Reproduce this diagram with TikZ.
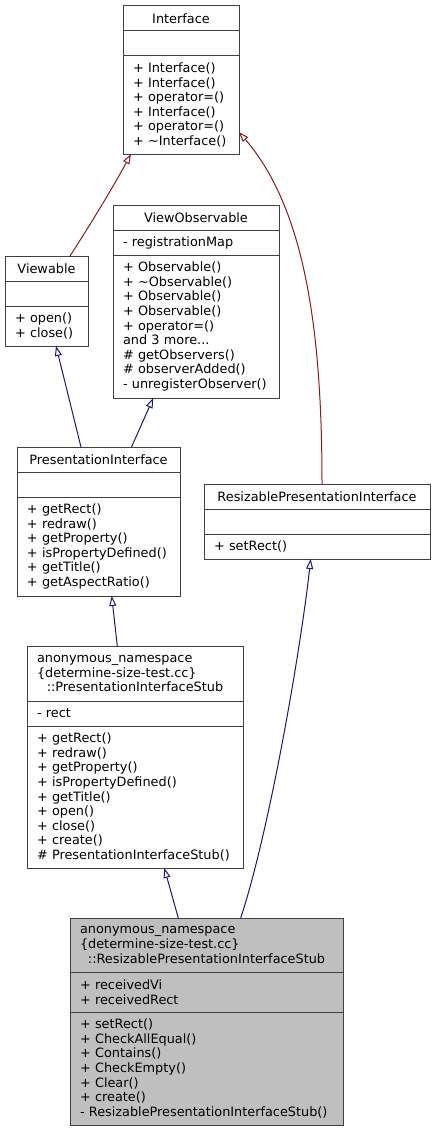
\documentclass[tikz,border=0pt]{standalone}
\usepackage{fontspec}
\setmainfont{DejaVu Sans}
\usetikzlibrary{arrows.meta,positioning}
\definecolor{boxgray}{HTML}{404040}
\definecolor{inhred}{HTML}{8B1A1A}
\definecolor{inhblue}{HTML}{191970}
\definecolor{curfill}{HTML}{BFBFBF}

\begin{document}
\begin{tikzpicture}[x=1pt, y=-1pt, node distance=0pt,
                    every node/.style={font=\fontsize{12.85}{14.6}\selectfont},
                    classpart/.style={draw=boxgray, fill=white, line width=1pt, inner xsep=10pt,
                                      inner ysep=0pt, outer sep=0pt, anchor=north west, minimum height=25pt},
                    classtitle/.style={classpart, align=center},
                    classmembers/.style={classpart, align=left},
                    current/.style={fill=curfill},
                    red edge/.style={draw=inhred, line width=1pt, -{Triangle[open,length=10pt,width=7pt]}},
                    blue edge/.style={draw=inhblue, line width=1pt, -{Triangle[open,length=10pt,width=7pt]}}]

  \useasboundingbox (0,0) rectangle (435,1132);

  \node[classtitle, text width=96pt] (iface) at (123,6) {Interface};
  \node[classmembers, text width=96pt, below=of iface] (iface-a) {};
  \node[classmembers, text width=96pt, minimum height=98pt, below=of iface-a] (iface-m)
    {+ Interface()\\+ Interface()\\+ operator=()\\+ Interface()\\+ operator=()\\+ \textasciitilde Interface()};

  \node[classtitle, text width=146pt] (vobs) at (113,205) {ViewObservable};
  \node[classmembers, text width=146pt, below=of vobs] (vobs-a) {- registrationMap};
  \node[classmembers, text width=146pt, minimum height=143pt, below=of vobs-a] (vobs-m)
    {+ Observable()\\+ \textasciitilde Observable()\\+ Observable()\\+ Observable()\\+ operator=()\\and 3 more...\\\# getObservers()\\\# observerAdded()\\- unregisterObserver()};

  \node[classtitle, text width=63pt] (vwbl) at (5,256) {Viewable};
  \node[classmembers, text width=63pt, below=of vwbl] (vwbl-a) {};
  \node[classmembers, text width=63pt, minimum height=40pt, below=of vwbl-a] (vwbl-m)
    {+ open()\\+ close()};

  \node[classtitle, text width=143pt] (pif) at (17,447) {PresentationInterface};
  \node[classmembers, text width=143pt, below=of pif] (pif-a) {};
  \node[classmembers, text width=143pt, minimum height=99pt, below=of pif-a] (pif-m)
    {+ getRect()\\+ redraw()\\+ getProperty()\\+ isPropertyDefined()\\+ getTitle()\\+ getAspectRatio()};

  \node[classtitle, text width=206pt] (rpif) at (204,484) {ResizablePresentationInterface};
  \node[classmembers, text width=206pt, below=of rpif] (rpif-a) {};
  \node[classmembers, text width=206pt, below=of rpif-a] (rpif-m) {+ setRect()};

  \node[classmembers, text width=196pt, minimum height=55pt] (pistub) at (27,646)
    {anonymous\_namespace\\\{determine-size-test.cc\}\\\makebox[\hsize]{::PresentationInterfaceStub}};
  \node[classmembers, text width=196pt, below=of pistub] (pistub-a) {- rect};
  \node[classmembers, text width=196pt, minimum height=142pt, below=of pistub-a] (pistub-m)
    {+ getRect()\\+ redraw()\\+ getProperty()\\+ isPropertyDefined()\\+ getTitle()\\+ open()\\+ close()\\+ create()\\\# PresentationInterfaceStub()};

  \node[classmembers, current, text width=253pt, minimum height=54pt] (rpistub) at (70,918)
    {anonymous\_namespace\\\{determine-size-test.cc\}\\\makebox[\hsize]{::ResizablePresentationInterfaceStub}};
  \node[classmembers, current, text width=253pt, minimum height=40pt, below=of rpistub] (rpistub-a)
    {+ receivedVi\\+ receivedRect};
  \node[classmembers, current, text width=253pt, minimum height=113pt, below=of rpistub-a] (rpistub-m)
    {+ setRect()\\+ CheckAllEqual()\\+ Contains()\\+ CheckEmpty()\\+ Clear()\\+ create()\\- ResizablePresentationInterfaceStub()};

  \draw[red edge] ([xshift=23.5pt]vwbl.north) .. controls +(20,-31) and +(-19,35) .. ([xshift=-50pt]iface-m.south);
  \draw[red edge] ([xshift=5pt]rpif.north) .. controls +(0,-154) and +(66,77) .. ([yshift=-27pt]iface-m.east);
  \draw[blue edge] ([xshift=-17.5pt]pif.north) -- ([xshift=9.5pt]vwbl-m.south);
  \draw[blue edge] ([xshift=33pt]pif.north) -- ([xshift=-42.7pt]vobs-m.south);
  \draw[blue edge] ([xshift=-17.7pt]pistub.north) -- ([xshift=13.2pt]pif-m.south);
  \draw[blue edge] ([xshift=-28.2pt]rpistub.north) -- ([xshift=29.3pt]pistub-m.south);
  \draw[blue edge] ([xshift=34.2pt]rpistub.north) .. controls +(29,-88) and +(-10,90) .. ([xshift=-6.3pt]rpif-m.south);
\end{tikzpicture}
\end{document}
